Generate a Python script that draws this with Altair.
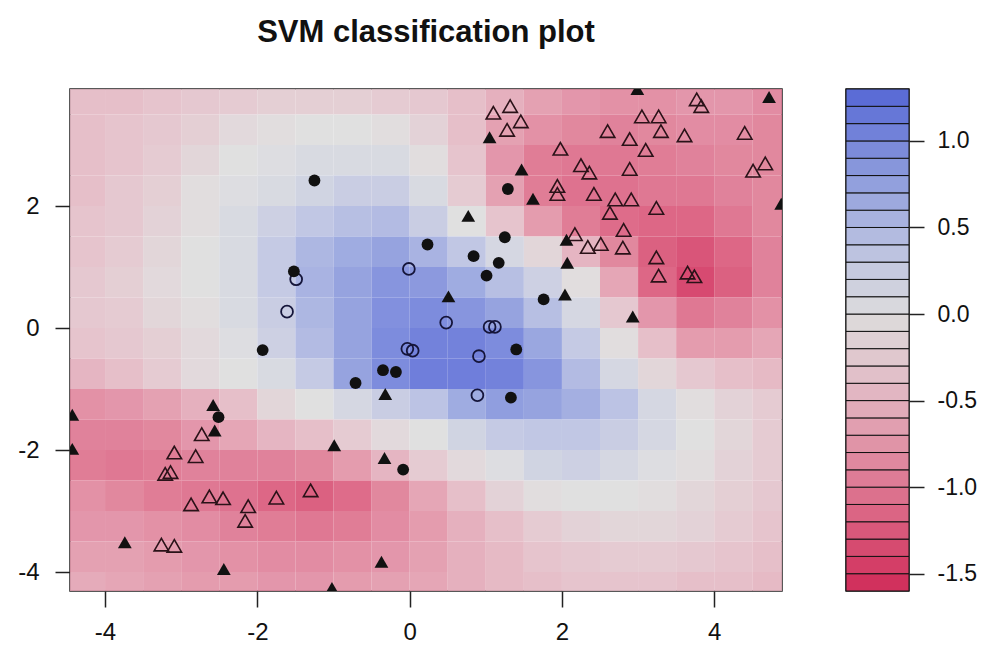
import altair as alt
import pandas as pd

title_text = "SVM classification plot"

# ---- decision-value field (cell centres) ----
grid_x = [-4.25, -3.75, -3.25, -2.75, -2.25, -1.75, -1.25, -0.75, -0.25, 0.25,
          0.75, 1.25, 1.75, 2.25, 2.75, 3.25, 3.75, 4.25, 4.75]
grid_y = [3.75, 3.25, 2.75, 2.25, 1.75, 1.25, 0.75, 0.25, -0.25, -0.75,
          -1.25, -1.75, -2.25, -2.75, -3.25, -3.75, -4.25]
z_rows = [
    [-0.45, -0.45, -0.4, -0.35, -0.3, -0.25, -0.25, -0.25, -0.3, -0.35, -0.45, -0.6, -0.75, -0.85, -0.9, -0.9, -0.85, -0.85, -0.95],
    [-0.45, -0.4, -0.35, -0.25, -0.1, -0.05, 0.0, 0.0, -0.05, -0.2, -0.45, -0.75, -0.9, -1.0, -1.05, -1.0, -0.95, -0.95, -1.0],
    [-0.45, -0.4, -0.3, -0.15, 0.0, 0.05, 0.1, 0.1, 0.1, -0.05, -0.4, -0.85, -1.1, -1.15, -1.15, -1.1, -1.05, -1.0, -1.0],
    [-0.45, -0.35, -0.25, -0.05, 0.05, 0.1, 0.2, 0.3, 0.3, 0.1, -0.3, -0.75, -1.1, -1.2, -1.2, -1.15, -1.15, -1.05, -1.0],
    [-0.4, -0.35, -0.2, -0.05, 0.1, 0.25, 0.4, 0.5, 0.55, 0.3, 0.0, -0.4, -0.8, -1.1, -1.25, -1.3, -1.3, -1.15, -1.0],
    [-0.4, -0.3, -0.15, 0.0, 0.1, 0.35, 0.6, 0.75, 0.85, 0.65, 0.4, 0.15, -0.15, -0.55, -1.0, -1.35, -1.45, -1.3, -1.05],
    [-0.35, -0.25, -0.1, 0.0, 0.1, 0.35, 0.65, 0.85, 1.0, 0.95, 0.75, 0.5, 0.25, -0.05, -0.7, -1.3, -1.55, -1.35, -1.05],
    [-0.35, -0.3, -0.15, -0.05, 0.1, 0.3, 0.6, 0.85, 1.05, 1.1, 1.0, 0.85, 0.5, 0.15, -0.35, -0.85, -1.15, -1.05, -0.9],
    [-0.4, -0.35, -0.25, -0.1, 0.05, 0.25, 0.55, 0.85, 1.1, 1.2, 1.2, 1.1, 0.8, 0.35, -0.05, -0.45, -0.8, -0.8, -0.7],
    [-0.55, -0.45, -0.3, -0.1, 0.0, 0.1, 0.35, 0.85, 1.1, 1.25, 1.25, 1.2, 1.0, 0.55, 0.15, -0.15, -0.35, -0.45, -0.5],
    [-0.9, -0.85, -0.75, -0.6, -0.45, -0.15, 0.0, 0.15, 0.3, 0.45, 0.75, 0.9, 0.85, 0.7, 0.45, 0.15, -0.05, -0.2, -0.3],
    [-1.05, -1.05, -1.0, -0.85, -0.7, -0.55, -0.45, -0.3, -0.1, 0.0, 0.2, 0.35, 0.4, 0.4, 0.3, 0.15, 0.0, -0.15, -0.3],
    [-1.1, -1.15, -1.1, -1.05, -1.05, -1.05, -1.0, -0.8, -0.55, -0.3, -0.1, 0.05, 0.2, 0.25, 0.15, 0.05, -0.05, -0.2, -0.3],
    [-0.9, -1.0, -1.1, -1.15, -1.2, -1.3, -1.35, -1.25, -1.0, -0.7, -0.45, -0.2, -0.05, 0.0, 0.0, -0.05, -0.15, -0.25, -0.35],
    [-0.85, -0.85, -0.9, -0.95, -1.05, -1.1, -1.15, -1.1, -0.95, -0.8, -0.6, -0.45, -0.3, -0.2, -0.15, -0.15, -0.2, -0.3, -0.4],
    [-0.75, -0.75, -0.8, -0.85, -0.9, -0.95, -0.95, -0.9, -0.85, -0.75, -0.6, -0.5, -0.4, -0.35, -0.3, -0.3, -0.35, -0.4, -0.45],
    [-0.65, -0.7, -0.75, -0.8, -0.8, -0.85, -0.85, -0.8, -0.75, -0.7, -0.6, -0.5, -0.45, -0.4, -0.4, -0.4, -0.45, -0.45, -0.5],
]
grid_step = 0.5

# ---- observations ----
fc_x = [-1.25, 0.235, -1.52, 1.25, 0.84, 1.17, 1.01, 1.29, 1.76, -1.93, -0.35, -0.18, -0.71, -2.51, -0.085, 1.40, 1.33]
fc_y = [2.42, 1.37, 0.93, 1.49, 1.18, 1.07, 0.86, 2.28, 0.47, -0.36, -0.69, -0.72, -0.90, -1.46, -2.32, -0.35, -1.14]

oc_x = [-0.01, -1.49, -1.61, 0.48, 1.05, 1.12, -0.03, 0.04, 0.91, 0.89]
oc_y = [0.97, 0.80, 0.27, 0.09, 0.02, 0.02, -0.34, -0.37, -0.46, -1.10]

ft_x = [2.99, 4.72, 1.05, 1.47, 1.62, 4.88, 0.77, 2.06, 2.07, 0.51, 2.04, 2.93, -0.32, -2.58, -2.56,
        -4.43, -4.43, -0.99, -0.33, -3.74, -2.44, -0.37, -1.02]
ft_y = [3.92, 3.79, 3.13, 2.60, 2.12, 2.04, 1.84, 1.45, 1.07, 0.52, 0.55, 0.19, -1.08, -1.26, -1.68,
        -1.42, -1.98, -1.92, -2.13, -3.51, -3.95, -3.83, -4.26]

ot_x = [1.10, 1.32, 1.46, 1.28, 3.77, 3.83, 3.05, 3.27, 3.30, 3.61, 4.40, 2.60, 2.89, 3.10, 1.98,
        2.25, 2.36, 2.89, 4.51, 4.67, 1.94, 1.94, 2.42, 2.70, 2.91, 2.63, 3.24, 2.81, 2.17, 2.34,
        2.51, 2.80, 3.24, 3.27, 3.65, 3.74, -2.73, -3.09, -2.81, -3.21, -3.14, -2.87, -2.63, -2.45,
        -2.12, -2.16, -1.75, -1.30, -3.26, -3.09]
ot_y = [3.53, 3.64, 3.39, 3.25, 3.75, 3.64, 3.47, 3.47, 3.23, 3.16, 3.20, 3.23, 3.10, 2.92, 2.94,
        2.67, 2.55, 2.61, 2.58, 2.70, 2.33, 2.20, 2.20, 2.11, 2.11, 1.89, 1.97, 1.61, 1.54, 1.33,
        1.38, 1.32, 1.16, 0.86, 0.91, 0.85, -1.74, -2.04, -2.10, -2.39, -2.36, -2.89, -2.76, -2.79,
        -2.92, -3.16, -2.78, -2.66, -3.55, -3.57]

# ---- colour key ----
levels = [-1.6, -1.5, -1.4, -1.3, -1.2, -1.1, -1.0, -0.9, -0.8, -0.7, -0.6, -0.5, -0.4, -0.3, -0.2,
          -0.1, 0.0, 0.1, 0.2, 0.3, 0.4, 0.5, 0.6, 0.7, 0.8, 0.9, 1.0, 1.1, 1.2, 1.3]
x_ticks = [-4, -2, 0, 2, 4]
y_ticks = [-4, -2, 0, 2]
key_ticks = [-1.5, -1.0, -0.5, 0.0, 0.5, 1.0]

# ---- tables ----
half = grid_step / 2
grid_rows = []
for i, gy in enumerate(grid_y):
    for j, gx in enumerate(grid_x):
        grid_rows.append({"x0": gx - half, "x1": gx + half, "y0": gy - half, "y1": gy + half, "z": z_rows[i][j]})
grid_df = pd.DataFrame(grid_rows)

fc_df = pd.DataFrame({"x": fc_x, "y": fc_y})
oc_df = pd.DataFrame({"x": oc_x, "y": oc_y})
ft_df = pd.DataFrame({"x": ft_x, "y": ft_y})
ot_df = pd.DataFrame({"x": ot_x, "y": ot_y})

key_df = pd.DataFrame({
    "lo": levels[:-1],
    "hi": levels[1:],
    "mid": [(a + b) / 2 for a, b in zip(levels[:-1], levels[1:])],
})

FONT = "Liberation Sans"
MINUS = "\u2212"

cscale = alt.Scale(
    domain=[-1.6, -1.2, -0.8, -0.4, 0.0, 0.4, 0.8, 1.3],
    range=["#d02a58", "#da5f7f", "#e08ea3", "#e2bcc6", "#dcdcdc", "#b8bfe0", "#8c9bdc", "#5567d5"],
    interpolate="rgb",
)
xs = alt.Scale(domain=[-4.46, 4.89], nice=False, zero=False)
ys = alt.Scale(domain=[-4.31, 3.92], nice=False, zero=False)

x_axis = alt.Axis(values=x_ticks, tickSize=16, labelPadding=13, labelFontSize=24,
                  labelExpr=f"replace(format(datum.value, 'd'), '{MINUS}', '-')")
y_axis = alt.Axis(values=y_ticks, tickSize=15, labelPadding=16, labelFontSize=24,
                  labelExpr=f"replace(format(datum.value, 'd'), '{MINUS}', '-')")


def X(f):
    return alt.X(f, scale=xs, axis=x_axis, title=None)


def Y(f):
    return alt.Y(f, scale=ys, axis=y_axis, title=None)


bg = alt.Chart(grid_df).mark_rect(clip=True, opacity=0.88).encode(
    x=X("x0:Q"), x2="x1:Q", y=Y("y0:Q"), y2="y1:Q",
    color=alt.Color("z:Q", scale=cscale, legend=None),
)

filled_c = alt.Chart(fc_df).mark_point(shape="circle", filled=True, color="#111111", size=140, opacity=1, clip=True).encode(
    x=X("x:Q"), y=Y("y:Q"))
open_c = alt.Chart(oc_df).mark_point(shape="circle", filled=False, color="#15153a", size=140, strokeWidth=1.8, opacity=1, clip=True).encode(
    x=X("x:Q"), y=Y("y:Q"))
filled_t = alt.Chart(ft_df).mark_point(shape="triangle-up", filled=True, color="#111111", size=190, opacity=1, clip=True).encode(
    x=X("x:Q"), y=Y("y:Q"))
open_t = alt.Chart(ot_df).mark_point(shape="triangle-up", filled=False, color="#2a1218", size=210, strokeWidth=1.6, opacity=1, clip=True).encode(
    x=X("x:Q"), y=Y("y:Q"))

main = alt.layer(bg, open_t, filled_t, open_c, filled_c).properties(
    width=712, height=502,
    title=alt.TitleParams(text=title_text, font=FONT, fontSize=31, fontWeight="bold",
                          color="#111111", anchor="middle", offset=16, baseline="alphabetic"),
)

key = alt.Chart(key_df).mark_rect(stroke="#111111", strokeWidth=1).encode(
    x=alt.value(0), x2=alt.value("width"),
    y=alt.Y("lo:Q", scale=alt.Scale(domain=[-1.6, 1.3], nice=False, zero=False),
            axis=alt.Axis(orient="right", values=key_ticks, tickSize=15, labelPadding=13, labelFontSize=23,
                          labelExpr=f"replace(format(datum.value, '.1f'), '{MINUS}', '-')"),
            title=None),
    y2="hi:Q",
    color=alt.Color("mid:Q", scale=cscale, legend=None),
).properties(width=63, height=502)

chart = alt.HConcatChart(hconcat=[main, key], spacing=64, bounds="flush").properties(
    padding={"left": 8, "top": 8, "right": 0, "bottom": 0},
).configure_view(
    stroke="#222222", strokeWidth=1.5,
).configure_axis(
    labelFont=FONT, labelColor="#111111",
    tickColor="#222222", tickWidth=1.5, domain=False, grid=False,
)

chart.save("out.html", embed_options={"renderer": "svg", "actions": False})
